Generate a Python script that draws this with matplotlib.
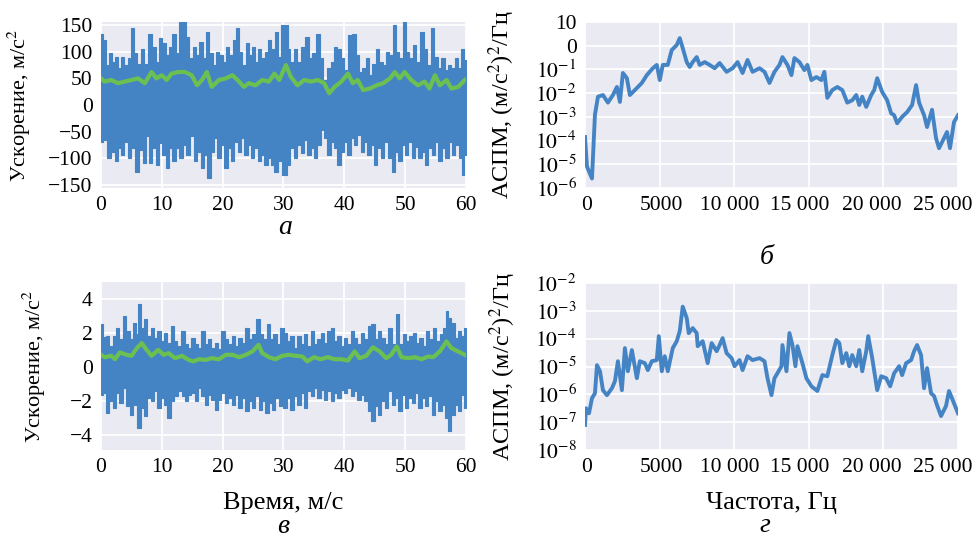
import numpy as np
import matplotlib
matplotlib.use("Agg")
import matplotlib.pyplot as plt
from matplotlib.ticker import FixedLocator, FixedFormatter
from matplotlib.transforms import ScaledTranslation

# ---------------- data ----------------
# panel а : acceleration, upper / lower envelope peaks of the raw signal, m/s^2
a_up_t = [0, 0.55, 1.1, 1.5, 2, 2.5, 3, 3.5, 4.1, 4.7, 5.3, 5.7, 6.3, 6.8, 7.4, 8.2, 8.7, 9.3, 9.8, 10.4,
          10.9, 11.5, 12, 12.6, 13.1, 13.7, 14.1, 14.8, 15.3, 15.9, 16.4, 17, 17.5, 18.1, 18.6, 19.2, 19.7,
          20.3, 20.8, 21.4, 21.9, 22.5, 22.8, 23.6, 24.1, 24.5, 25, 25.5, 26.1, 26.6, 27.2, 27.7, 28.3, 28.8,
          29.4, 29.9, 30.5, 30.85, 31.4, 31.95, 32.5, 33.2, 33.9, 34.4, 35, 35.7, 36.25, 36.9, 37.5, 38, 38.6,
          39.1, 39.7, 40.2, 41.05, 41.6, 42.1, 42.7, 43.25, 43.8, 44.35, 44.9, 45.45, 46, 46.6, 47.1, 47.7,
          48.2, 48.8, 49.3, 49.9, 50.4, 51, 51.5, 52.1, 52.8, 53.3, 54, 54.5, 55.1, 55.6, 56.2, 56.75, 57.3,
          57.85, 58.4, 59, 59.5, 60]
a_up_v = [134, 122, 75, 97, 81, 91, 69, 91, 75, 88, 144, 97, 78, 106, 78, 134, 109, 81, 125, 116,
          94, 109, 134, 97, 156, 156, 128, 88, 109, 94, 119, 88, 137, 97, 75, 100, 94,
          81, 109, 94, 122, 144, 100, 75, 116, 94, 109, 81, 106, 88, 100, 122, 106, 137,
          91, 150, 150, 106, 81, 106, 81, 109, 128, 88, 97, 134, 88, 47, 69, 81, 109,
          106, 88, 66, 131, 134, 94, 62, 69, 88, 56, 78, 106, 81, 75, 100, 94,
          150, 100, 88, 156, 100, 88, 112, 81, 137, 106, 75, 144, 91, 69, 88, 66, 75,
          69, 88, 69, 106, 84]
a_lo_t = [0, 0.55, 1.4, 2, 2.6, 3, 3.6, 4.1, 4.7, 5.2, 6, 6.6, 7.1, 7.7, 8.2, 8.7, 9.3, 9.8, 10.4, 10.9,
          11.5, 12, 12.6, 13.1, 13.7, 14.2, 15, 15.6, 16.1, 16.7, 17.2, 17.8, 18.3, 18.9, 19.4, 20, 20.5,
          21.1, 21.6, 22.2, 22.7, 23.3, 23.8, 24.4, 24.9, 25.5, 26, 26.6, 27.1, 27.7, 28.2, 28.8, 29.3, 30.2,
          30.85, 31.4, 31.95, 32.5, 33.1, 33.6, 34.2, 34.7, 35.3, 35.8, 36.4, 36.9, 37.5, 38, 38.6, 39.1,
          39.7, 40.2, 40.8, 41.3, 41.9, 42.4, 43, 43.5, 44.1, 44.6, 45.2, 45.7, 46.3, 46.8, 47.5, 48.05,
          48.6, 49.15, 49.7, 50.25, 50.8, 51.35, 51.9, 52.45, 53, 53.55, 54.1, 54.65, 55.2, 55.75, 56.3,
          56.85, 57.4, 57.95, 58.5, 59.05, 59.5, 60]
a_lo_v = [-69, -66, -100, -88, -106, -81, -94, -69, -100, -81, -125, -84, -109, -59, -109, -81, -112, -72, -94, -119,
          -81, -106, -81, -100, -75, -94, -59, -106, -88, -119, -94, -138, -88, -62, -100, -75, -119,
          -81, -106, -69, -88, -62, -94, -75, -100, -81, -106, -94, -112, -100, -112, -125, -106, -131,
          -112, -81, -100, -75, -91, -66, -94, -81, -100, -75, -47, -62, -94, -69, -81, -112,
          -88, -69, -94, -62, -75, -56, -88, -69, -94, -75, -112, -81, -100, -69, -100, -125,
          -88, -106, -75, -94, -69, -100, -78, -100, -88, -112, -81, -94, -69, -106, -81,
          -100, -69, -94, -75, -100, -131, -94]
# panel а : smoothed (RMS) curve
a_rms_t = [0, 0.6, 1.7, 2.8, 3.9, 5, 6.1, 7.2, 8.3, 9.1, 10, 10.8, 11.6, 12.7, 13.8, 14.9, 15.8, 16.6, 17.4,
           18.2, 19.4, 20.5, 21.6, 22.7, 23.5, 24.3, 25.4, 26.5, 27.6, 28.5, 29.3, 30.4, 31.2, 32.3, 33.4,
           34.5, 35.6, 36.7, 37.5, 38.4, 39.5, 40.6, 41.4, 42.2, 43.1, 44.2, 45.3, 46.4, 47.5, 48.3, 49.1,
           49.9, 51, 52.1, 53.2, 54, 54.9, 55.7, 56.8, 57.6, 58.7, 59.8]
a_rms_v = [50, 44, 47, 41, 44, 47, 50, 41, 62, 50, 56, 47, 59, 62, 62, 56, 37, 47, 62,
           34, 47, 50, 56, 44, 34, 41, 37, 47, 44, 59, 47, 75, 53, 37, 47,
           44, 47, 41, 22, 34, 44, 59, 41, 47, 28, 31, 37, 41, 50, 62, 50,
           62, 47, 37, 44, 31, 56, 37, 47, 31, 34, 47]

# panel в : acceleration, upper / lower envelope peaks, m/s^2
c_up_t = [0, 0.55, 1.1, 1.65, 2.2, 2.75, 3.3, 3.9, 4.4, 5, 5.5, 6, 6.3, 6.8, 7.3, 7.9, 8.4, 9, 9.5, 10.1,
          10.6, 11.2, 11.7, 12.3, 12.8, 13.5, 14, 14.6, 15.1, 15.7, 16.2, 16.8, 17.3, 17.9, 18.4, 19, 19.5,
          20.1, 20.7, 21.2, 21.8, 22.3, 22.9, 23.4, 24, 24.5, 25.1, 25.9, 26.4, 27, 27.5, 28.1, 28.6, 29.2,
          29.8, 30.3, 30.85, 31.4, 31.95, 32.5, 33.1, 33.6, 34.2, 34.7, 35.3, 35.8, 36.4, 36.9, 37.5, 38,
          38.6, 39.1, 39.7, 40.2, 40.8, 41.3, 41.9, 42.4, 43, 43.5, 44.2, 44.7, 45.3, 45.8, 46.4, 46.9, 47.5,
          48.05, 48.8, 49.3, 49.9, 50.4, 51, 51.5, 52.1, 52.6, 53.2, 53.7, 54.3, 54.8, 55.4, 55.9, 56.5,
          56.9, 57.3, 57.85, 58.4, 59, 59.5, 60]
c_up_v = [2.5, 1.78, 1.81, 1.22, 1.81, 2.3, 1.62, 2.99, 2.1, 1.62, 2.6, 1.91, 3.69, 2.3, 2.8, 1.81, 2.3, 1.72, 2.1, 1.52,
          2.0, 1.42, 2.4, 1.52, 1.22, 2.1, 1.32, 1.12, 1.72, 1.32, 1.12, 2.1, 1.32, 1.62, 1.12, 1.42, 1.03,
          2.1, 1.62, 1.32, 1.81, 1.22, 1.72, 1.42, 2.3, 1.62, 1.91, 2.8, 1.91, 1.62, 2.5, 1.62, 1.91, 1.32,
          2.3, 2.0, 1.52, 1.81, 1.12, 1.81, 1.32, 1.91, 1.22, 2.1, 1.32, 1.62, 2.0, 1.42, 2.1, 2.3,
          1.52, 1.81, 1.22, 1.72, 1.32, 2.1, 1.72, 1.32, 2.0, 1.62, 2.4, 2.5, 1.62, 2.1, 1.72, 1.32, 2.3,
          1.32, 3.1, 1.32, 1.91, 1.52, 1.81, 2.0, 1.42, 1.72, 1.22, 2.1, 1.62, 2.3, 1.52, 1.91, 2.3,
          3.3, 2.9, 2.6, 1.72, 2.1, 1.81, 2.3]
c_lo_t = [0, 0.55, 1.1, 1.65, 2.2, 2.75, 3.3, 3.9, 4.4, 5, 5.5, 6.3, 6.8, 7.3, 7.9, 8.4, 9, 9.5, 10.1, 10.6,
          11.2, 11.7, 12.3, 13, 13.5, 14, 14.6, 15.1, 15.7, 16.2, 16.8, 17.3, 17.9, 18.4, 19, 19.5, 20.1,
          20.7, 21.2, 21.8, 22.3, 22.9, 23.4, 24, 24.5, 25.1, 25.6, 26.2, 26.7, 27.3, 27.8, 28.4, 28.9,
          29.5, 30.3, 30.85, 31.4, 31.95, 32.5, 33.1, 33.6, 34.2, 34.7, 35.3, 35.8, 36.4, 36.9, 37.5, 38,
          38.6, 39.1, 39.7, 40.2, 40.8, 41.3, 41.9, 42.4, 43, 43.5, 44.2, 44.7, 45.3, 45.8, 46.4, 46.9,
          47.5, 48.05, 48.6, 49.15, 49.7, 50.25, 50.8, 51.35, 51.9, 52.45, 53, 53.55, 54.1, 54.65, 55.2,
          55.75, 56.3, 56.85, 57.3, 57.85, 58.4, 59, 59.5, 60]
c_lo_v = [-1.64, -1.54, -2.72, -2.03, -2.43, -1.54, -2.13, -1.24, -2.33, -2.82, -2.23, -3.61, -2.43, -2.92, -1.83, -2.03, -1.44, -2.43, -1.83, -2.23,
          -3.02, -2.03, -1.74, -1.44, -1.74, -2.03, -1.64, -1.54, -2.03, -1.24, -1.74, -2.23, -1.64, -1.93, -2.53, -1.93, -1.54,
          -2.13, -1.83, -2.23, -1.64, -2.43, -1.83, -2.62, -2.03, -2.43, -1.74, -2.53, -2.03, -2.72, -2.13, -2.53, -1.83,
          -2.33, -2.43, -1.83, -2.53, -1.74, -2.23, -1.54, -2.43, -1.44, -1.74, -1.24, -1.83, -1.34, -1.93, -1.44, -2.03,
          -1.54, -1.83, -1.34, -1.54, -1.24, -1.74, -1.44, -1.93, -1.64, -2.03, -2.62, -3.2, -2.33, -2.82, -2.03, -2.43,
          -1.44, -2.23, -1.83, -2.62, -1.64, -2.43, -1.83, -2.13, -1.54, -2.43, -1.83, -2.33, -1.74, -2.82, -2.03,
          -2.62, -2.23, -3.02, -3.8, -2.82, -2.23, -2.62, -1.64, -2.43]
c_rms_t = [0, 0.6, 1.7, 2.3, 3.1, 4.2, 5, 5.9, 6.7, 7.5, 8.3, 9.4, 10.3, 11.1, 12.2, 13.3, 14.4, 15.2, 16.1,
           17.2, 18.2, 19.4, 20.5, 21.6, 22.7, 23.8, 24.9, 25.9, 26.5, 27.6, 28.7, 29.8, 30.9, 32, 33.1,
           33.9, 35, 36.1, 37.3, 38.4, 39.5, 40.6, 41.7, 42.5, 43.6, 44.7, 45.8, 46.9, 47.7, 48.6, 49.4,
           50.5, 51.6, 52.7, 53.8, 54.6, 55.7, 56.8, 57.6, 58.7, 59.8]
c_rms_v = [0.71, 0.57, 0.65, 0.45, 0.85, 0.71, 0.65, 1.1, 1.4, 1.0, 0.65, 1.0, 0.71, 0.81, 0.51, 0.65, 0.41, 0.32, 0.45,
           0.41, 0.51, 0.45, 0.71, 0.71, 0.57, 0.71, 0.91, 1.3, 0.81, 0.57, 0.45, 0.65, 0.71, 0.65, 0.61,
           0.32, 0.57, 0.45, 0.57, 0.45, 0.45, 0.37, 0.91, 0.51, 0.65, 1.15, 0.91, 0.51, 0.71, 1.2, 0.57,
           0.51, 0.57, 0.45, 0.61, 0.57, 0.91, 1.5, 1.1, 0.91, 0.71]

# panel б : PSD, frequency (Hz) and log10 of PSD ((m/s^2)^2/Hz)
b_freq = [0, 134, 468, 668, 869, 1203, 1537, 1872, 2139, 2339, 2540, 2807, 3008, 3342, 3810, 4144, 4545, 4812,
          5013, 5214, 5548, 5815, 6149, 6350, 6550, 6818, 7018, 7219, 7486, 7687, 8021, 8355, 8689, 9023, 9491,
          9892, 10226, 10561, 10895, 11229, 11697, 12031, 12365, 12700, 13034, 13234, 13569, 13836, 14036,
          14371, 14705, 14905, 15173, 15507, 15841, 16042, 16242, 16576, 16910, 17245, 17579, 17913, 18180,
          18381, 18582, 18849, 19183, 19384, 19584, 19918, 20253, 20520, 20720, 20921, 21255, 21589, 21924,
          22191, 22391, 22726, 22926, 23260, 23528, 23728, 24062, 24263, 24463, 24731, 25000]
b_log10 = [-3.85, -5.1, -5.6, -2.9, -2.15, -2.08, -2.4, -2.08, -1.74, -2.37, -1.15, -1.37, -2.08, -1.87, -1.57, -1.24, -0.95, -0.81,
           -1.45, -0.81, -0.81, -0.18, 0.03, 0.32, -0.1, -0.69, -0.9, -0.69, -0.48, -0.81, -0.69, -0.81, -0.95, -0.73, -1.1,
           -0.95, -0.69, -1.15, -0.6, -1.1, -0.95, -1.1, -1.57, -1.1, -0.81, -0.48, -0.81, -1.24, -0.52,
           -0.69, -1.03, -0.81, -1.45, -1.32, -1.45, -1.1, -2.2, -1.87, -1.74, -1.87, -2.4, -2.3, -2.08,
           -2.5, -2.15, -2.58, -2.08, -1.87, -1.37, -1.95, -2.3, -2.85, -2.93, -3.27, -3.0, -2.8, -2.5,
           -1.66, -2.4, -2.93, -3.43, -2.7, -3.9, -4.32, -3.9, -3.64, -4.32, -3.22, -2.93]

# panel г : PSD, frequency (Hz) and log10 of PSD
d_freq = [0, 67, 267, 468, 668, 802, 1003, 1203, 1470, 1805, 2005, 2206, 2473, 2674, 2874, 3141, 3476, 3676,
          4010, 4211, 4478, 4812, 4946, 5147, 5347, 5548, 5882, 6149, 6350, 6550, 6818, 6951, 7219, 7486,
          7553, 7887, 8221, 8489, 8823, 9023, 9224, 9491, 9826, 10026, 10360, 10561, 10895, 11229, 11697,
          12031, 12232, 12499, 12700, 12900, 13167, 13234, 13502, 13702, 13903, 14103, 14237, 14571, 14838,
          15173, 15574, 15908, 16242, 16576, 16844, 17044, 17245, 17512, 17713, 17913, 18180, 18381, 18582,
          18849, 18983, 19250, 19584, 19851, 20185, 20453, 20720, 21055, 21255, 21522, 21857, 22057, 22258,
          22525, 22726, 22926, 23193, 23394, 23594, 23862, 24196, 24397, 24597, 25000]
d_log10 = [-7.1, -6.5, -6.68, -6.14, -5.96, -4.95, -5.17, -5.85, -6.03, -5.78, -5.53, -4.81, -5.85, -4.34, -5.17, -4.41, -5.42, -4.81,
           -4.88, -5.13, -4.81, -4.77, -3.91, -5.17, -4.63, -5.17, -4.34, -4.09, -3.73, -2.85, -3.26, -3.8, -3.62, -3.8,
           -4.27, -4.09, -4.88, -4.16, -4.45, -4.23, -3.98, -4.52, -4.7, -4.99, -4.77, -5.13, -4.63, -4.77, -4.7,
           -4.81, -5.42, -6.03, -5.42, -5.24, -4.99, -4.23, -5.17, -3.8, -4.23, -4.99, -4.27, -4.88, -5.42,
           -5.71, -5.88, -5.31, -5.35, -4.59, -4.05, -4.16, -4.88, -4.52, -4.99, -4.59, -4.99, -4.41, -5.17,
           -4.45, -3.91, -4.7, -5.85, -5.35, -5.42, -5.71, -5.24, -4.99, -5.31, -4.88, -4.77, -4.45, -4.23,
           -4.59, -5.78, -5.06, -5.96, -6.06, -6.39, -6.78, -6.42, -5.88, -6.14, -6.68]

# tick labels
time_ticks = [0, 10, 20, 30, 40, 50, 60]
freq_ticks = [0, 5000, 10000, 15000, 20000, 25000]
freq_ticklabels = ["0", "5000", "10 000", "15 000", "20 000", "25 000"]
b_yticks = [1e-6, 1e-5, 1e-4, 1e-3, 1e-2, 1e-1, 1e0, 1e1]
b_yticklabels = ["$10^{-6}$", "$10^{-5}$", "$10^{-4}$", "$10^{-3}$", "$10^{-2}$", "$10^{-1}$", "0", "10"]
d_yticks = [1e-8, 1e-7, 1e-6, 1e-5, 1e-4, 1e-3, 1e-2]
d_yticklabels = ["$10^{-8}$", "$10^{-7}$", "$10^{-6}$", "$10^{-5}$", "$10^{-4}$", "$10^{-3}$", "$10^{-2}$"]
a_yticks = [-150, -100, -50, 0, 50, 100, 150]
c_yticks = [-4, -2, 0, 2, 4]

# ---------------- style ----------------
BLUE = "#4584c4"
GREEN = "#6cc052"
BG = "#eaeaf2"
plt.rcParams["font.family"] = ["Liberation Serif", "DejaVu Serif"]
plt.rcParams["mathtext.fontset"] = "stix"
FS_TICK = 15.5
FS_YLAB_T = 16
FS_YLAB_F = 17.5
FS_XLAB = 19
FS_CAP = 20
# horizontal shift (pixels) of the frequency tick labels, as they sit in the reference
FREQ_LABEL_SHIFT = [2, 2, -4, -9, -12, -15]

W, H = 979, 541
fig = plt.figure(figsize=(W / 100, H / 100), dpi=100)


def box(l, t, r, b):
    return [l / W, 1 - b / H, (r - l) / W, (b - t) / H]


ax_a = fig.add_axes(box(101, 22, 466, 188))
ax_b = fig.add_axes(box(585, 22, 958, 188))
ax_c = fig.add_axes(box(101, 282, 466, 450))
ax_d = fig.add_axes(box(585, 283, 958, 450))

for ax in (ax_a, ax_b, ax_c, ax_d):
    ax.set_facecolor(BG)
    for s in ax.spines.values():
        s.set_visible(False)
    ax.grid(True, color="white", linewidth=1.3)
    ax.set_axisbelow(True)
    ax.tick_params(length=0, labelsize=FS_TICK, pad=6)
    ax.minorticks_off()

# panel а
ax_a.fill_between(a_up_t, 0, a_up_v, step="mid", color=BLUE, linewidth=0.8, edgecolor=BLUE)
ax_a.fill_between(a_lo_t, a_lo_v, 0, step="mid", color=BLUE, linewidth=0.8, edgecolor=BLUE)
ax_a.plot(a_rms_t, a_rms_v, color=GREEN, linewidth=3)
ax_a.set_xlim(0, 60)
ax_a.set_ylim(-156, 156)
ax_a.set_xticks(time_ticks)
ax_a.set_yticks(a_yticks)
ax_a.set_ylabel("Ускорение, м/с$^2$", fontsize=FS_YLAB_T)
ax_a.yaxis.set_label_coords(-0.186, 0.5)

# panel в
ax_c.fill_between(c_up_t, 0, c_up_v, step="mid", color=BLUE, linewidth=0.8, edgecolor=BLUE)
ax_c.fill_between(c_lo_t, c_lo_v, 0, step="mid", color=BLUE, linewidth=0.8, edgecolor=BLUE)
ax_c.plot(c_rms_t, c_rms_v, color=GREEN, linewidth=3)
ax_c.set_xlim(0, 60)
ax_c.set_ylim(-4.9, 5.0)
ax_c.set_xticks(time_ticks)
ax_c.set_yticks(c_yticks)
ax_c.set_ylabel("Ускорение, м/с$^2$", fontsize=FS_YLAB_T)
ax_c.yaxis.set_label_coords(-0.145, 0.5)
ax_c.set_xlabel("Время, м/с", fontsize=FS_XLAB)
ax_c.xaxis.set_label_coords(0.5, -0.25)

# panel б
ax_b.plot(b_freq, 10 ** np.array(b_log10), color=BLUE, linewidth=2.8)
ax_b.set_yscale("log")
ax_b.set_xlim(0, 25000)
ax_b.set_ylim(1e-6, 1e1)
ax_b.xaxis.set_major_locator(FixedLocator(freq_ticks))
ax_b.xaxis.set_major_formatter(FixedFormatter(freq_ticklabels))
ax_b.yaxis.set_major_locator(FixedLocator(b_yticks))
ax_b.yaxis.set_major_formatter(FixedFormatter(b_yticklabels))
ax_b.yaxis.set_minor_locator(FixedLocator([]))
ax_b.set_ylabel("АСПМ, (м/с$^2$)$^2$/Гц", fontsize=FS_YLAB_F)
ax_b.yaxis.set_label_coords(-0.182, 0.5)

# panel г
ax_d.plot(d_freq, 10 ** np.array(d_log10), color=BLUE, linewidth=2.8)
ax_d.set_yscale("log")
ax_d.set_xlim(0, 25000)
ax_d.set_ylim(1e-8, 1e-2)
ax_d.xaxis.set_major_locator(FixedLocator(freq_ticks))
ax_d.xaxis.set_major_formatter(FixedFormatter(freq_ticklabels))
ax_d.yaxis.set_major_locator(FixedLocator(d_yticks))
ax_d.yaxis.set_major_formatter(FixedFormatter(d_yticklabels))
ax_d.yaxis.set_minor_locator(FixedLocator([]))
ax_d.set_ylabel("АСПМ, (м/с$^2$)$^2$/Гц", fontsize=FS_YLAB_F)
ax_d.yaxis.set_label_coords(-0.18, 0.5)
ax_d.set_xlabel("Частота, Гц", fontsize=FS_XLAB)
ax_d.xaxis.set_label_coords(0.5, -0.25)

# sub-captions
for txt, x, yb in (("а", 285, 234), ("б", 767, 264), ("в", 283, 533), ("г", 765, 532)):
    fig.text(x / W, 1 - yb / H, txt, fontsize=FS_CAP, style="italic", ha="center", va="baseline")

# shift the frequency tick labels as in the reference (keeps "25 000" inside the figure)
fig.canvas.draw()
for ax in (ax_b, ax_d):
    for tick, dx in zip(ax.xaxis.get_major_ticks(), FREQ_LABEL_SHIFT):
        lbl = tick.label1
        lbl.set_transform(lbl.get_transform() + ScaledTranslation(dx / 100, 0, fig.dpi_scale_trans))

fig.savefig("out.png", dpi=100)
